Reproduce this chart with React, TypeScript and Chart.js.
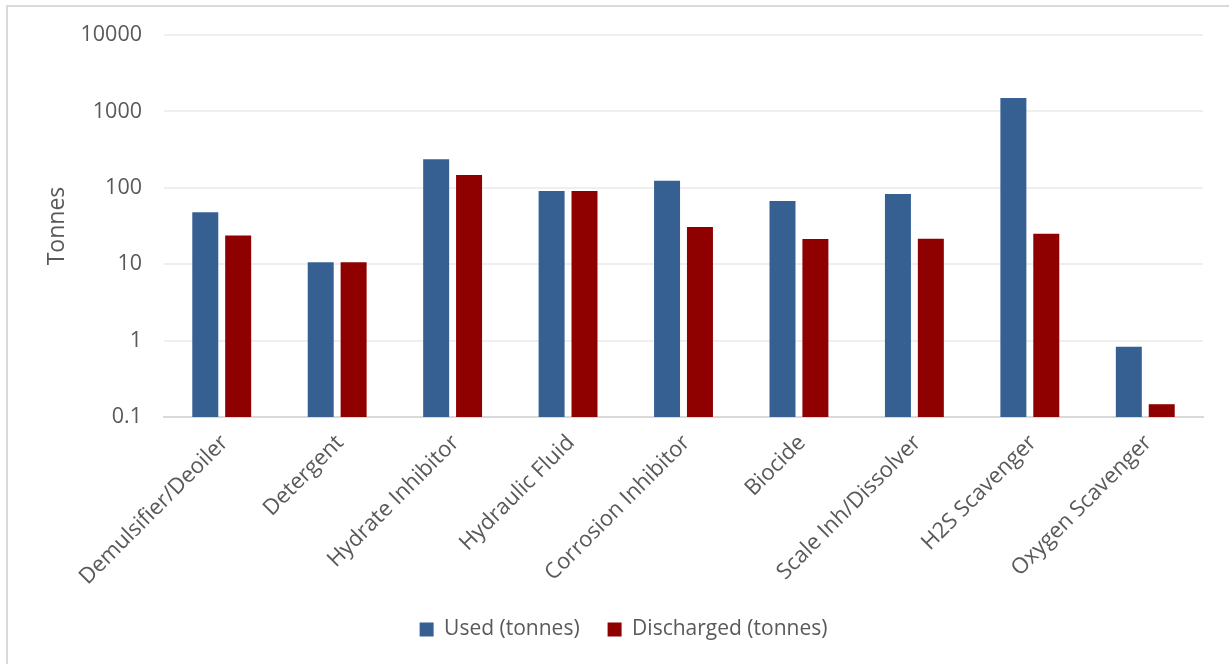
import { useEffect, useRef } from "react";
import { Chart, registerables } from "chart.js";

Chart.register(...registerables);

// Chemical usage vs. discharge, log scale
const categories = [
  "Demulsifier/Deoiler",
  "Detergent",
  "Hydrate Inhibitor",
  "Hydraulic Fluid",
  "Corrosion Inhibitor",
  "Biocide",
  "Scale Inh/Dissolver",
  "H2S Scavenger",
  "Oxygen Scavenger",
];
const usedTonnes = [48, 10.6, 236, 91, 124, 67, 83, 1500, 0.83];
const dischargedTonnes = [23.8, 10.6, 147, 91, 30.6, 21.3, 21.5, 25, 0.147];
const yTickValues = [0.1, 1, 10, 100, 1000, 10000];

const TEXT = "#595959";
const FONT = "'Open Sans', 'DejaVu Sans', sans-serif";

// Light frame along the top and left edges of the chart box
const framePlugin = {
  id: "frame",
  beforeDraw(chart: any) {
    const { ctx, width, height } = chart;
    ctx.save();
    ctx.fillStyle = "#ffffff";
    ctx.fillRect(0, 0, width, height);
    ctx.fillStyle = "#d9d9d9";
    ctx.fillRect(6, 5, width - 6, 2);
    ctx.fillRect(6, 5, 2, height - 5);
    ctx.restore();
  },
};

export default function App() {
  const canvasRef = useRef<HTMLCanvasElement | null>(null);

  useEffect(() => {
    document.body.style.margin = "0";
    const canvas = canvasRef.current;
    if (!canvas) return;
    const chart = new Chart(canvas, {
      type: "bar",
      data: {
        labels: categories,
        datasets: [
          {
            label: "Used (tonnes)",
            data: usedTonnes,
            backgroundColor: "#376092",
            barPercentage: 0.79,
            categoryPercentage: 0.57,
          },
          {
            label: "Discharged (tonnes)",
            data: dischargedTonnes,
            backgroundColor: "#8f0000",
            barPercentage: 0.79,
            categoryPercentage: 0.57,
          },
        ],
      },
      plugins: [framePlugin],
      options: {
        responsive: false,
        animation: false,
        devicePixelRatio: 1,
        layout: { padding: { top: 35, left: 44, right: 26, bottom: 14 } },
        plugins: {
          tooltip: { enabled: false },
          legend: {
            position: "bottom",
            labels: {
              boxWidth: 14,
              boxHeight: 14,
              padding: 28,
              color: TEXT,
              font: { family: FONT, size: 21 },
            },
          },
        },
        scales: {
          x: {
            grid: { display: false, drawTicks: false },
            border: { display: true, color: "#d9d9d9", width: 2 },
            ticks: {
              autoSkip: false,
              minRotation: 45,
              maxRotation: 45,
              padding: 13,
              labelOffset: 3,
              color: TEXT,
              font: { family: FONT, size: 22 },
            },
            afterFit: (scale: any) => {
              scale.height = 174;
            },
          },
          y: {
            type: "logarithmic",
            min: 0.1,
            max: 10000,
            afterBuildTicks: (scale: any) => {
              scale.ticks = yTickValues.map((value) => ({ value }));
            },
            grid: { color: "#efefef", lineWidth: 2, drawTicks: false },
            border: { display: false },
            ticks: {
              padding: 22,
              color: TEXT,
              font: { family: FONT, size: 21.5 },
              callback: (value: any) => String(value),
            },
            title: {
              display: true,
              text: "Tonnes",
              color: TEXT,
              font: { family: FONT, size: 23 },
              padding: 0,
            },
            afterFit: (scale: any) => {
              scale.width = 120;
            },
          },
        },
      },
    });
    return () => chart.destroy();
  }, []);

  return (
    <div style={{ width: 1229, height: 664, overflow: "hidden" }}>
      <canvas ref={canvasRef} width={1229} height={664} />
    </div>
  );
}
